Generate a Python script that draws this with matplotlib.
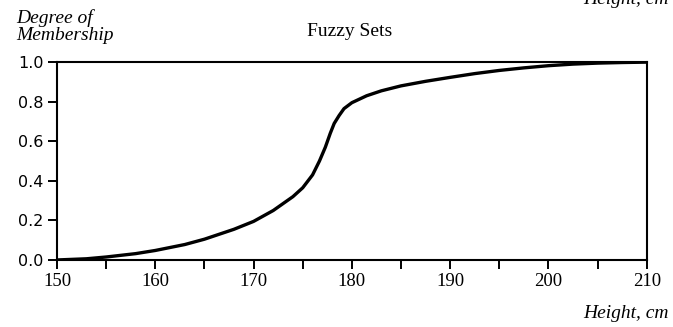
import matplotlib
matplotlib.use("Agg")
import matplotlib.pyplot as plt
from matplotlib.ticker import MultipleLocator

# membership curve
height = [150, 153, 155, 158, 160, 163, 165, 168, 170, 172, 174, 175, 176, 176.7,
          177.3, 177.8, 178.2, 178.7, 179.2, 180, 181.5, 183, 185, 187.5, 190,
          192.5, 195, 197.5, 200, 202.5, 205, 207.5, 210]
membership = [0.0, 0.006, 0.015, 0.032, 0.048, 0.078, 0.105, 0.155, 0.195, 0.25, 0.32,
              0.365, 0.43, 0.5, 0.57, 0.64, 0.69, 0.73, 0.765, 0.795, 0.83, 0.855,
              0.88, 0.903, 0.923, 0.942, 0.958, 0.971, 0.982, 0.99, 0.995, 0.998, 1.0]

x_ticks = [150, 160, 170, 180, 190, 200, 210]
y_ticks = [0.0, 0.2, 0.4, 0.6, 0.8, 1.0]

serif = "Liberation Serif"

fig = plt.figure(figsize=(6.73, 3.27), dpi=100)
ax = fig.add_axes([0.0847, 0.205, 0.8763, 0.605])

ax.plot(height, membership, color="black", lw=2.4, solid_capstyle="round")

ax.set_xlim(150, 210)
ax.set_ylim(0, 1)
ax.set_xticks(x_ticks)
ax.xaxis.set_minor_locator(MultipleLocator(5))
ax.set_yticks(y_ticks)
ax.set_yticklabels(["%.1f" % v for v in y_ticks], fontfamily="DejaVu Sans", fontsize=11.5)
ax.set_xticklabels([str(v) for v in x_ticks], fontfamily=serif, fontsize=13.5)

for s in ax.spines.values():
    s.set_linewidth(1.5)
ax.tick_params(which="both", direction="out", width=1.4, color="black")
ax.tick_params(which="major", length=6.5, pad=3)
ax.tick_params(which="minor", length=6.5)

fig.text(0.024, 0.918, "Degree of\nMembership", fontfamily=serif, style="italic",
         fontsize=14, va="center", ha="left", linespacing=1.0)
fig.text(0.52, 0.905, "Fuzzy Sets", fontfamily=serif, fontsize=14,
         ha="center", va="center")
fig.text(0.993, 0.042, "Height, cm", fontfamily=serif, style="italic",
         fontsize=14, ha="right", va="center")
fig.text(0.993, 1.0, "Height, cm", fontfamily=serif, style="italic",
         fontsize=14, ha="right", va="center")

fig.savefig("out.png", dpi=100)
